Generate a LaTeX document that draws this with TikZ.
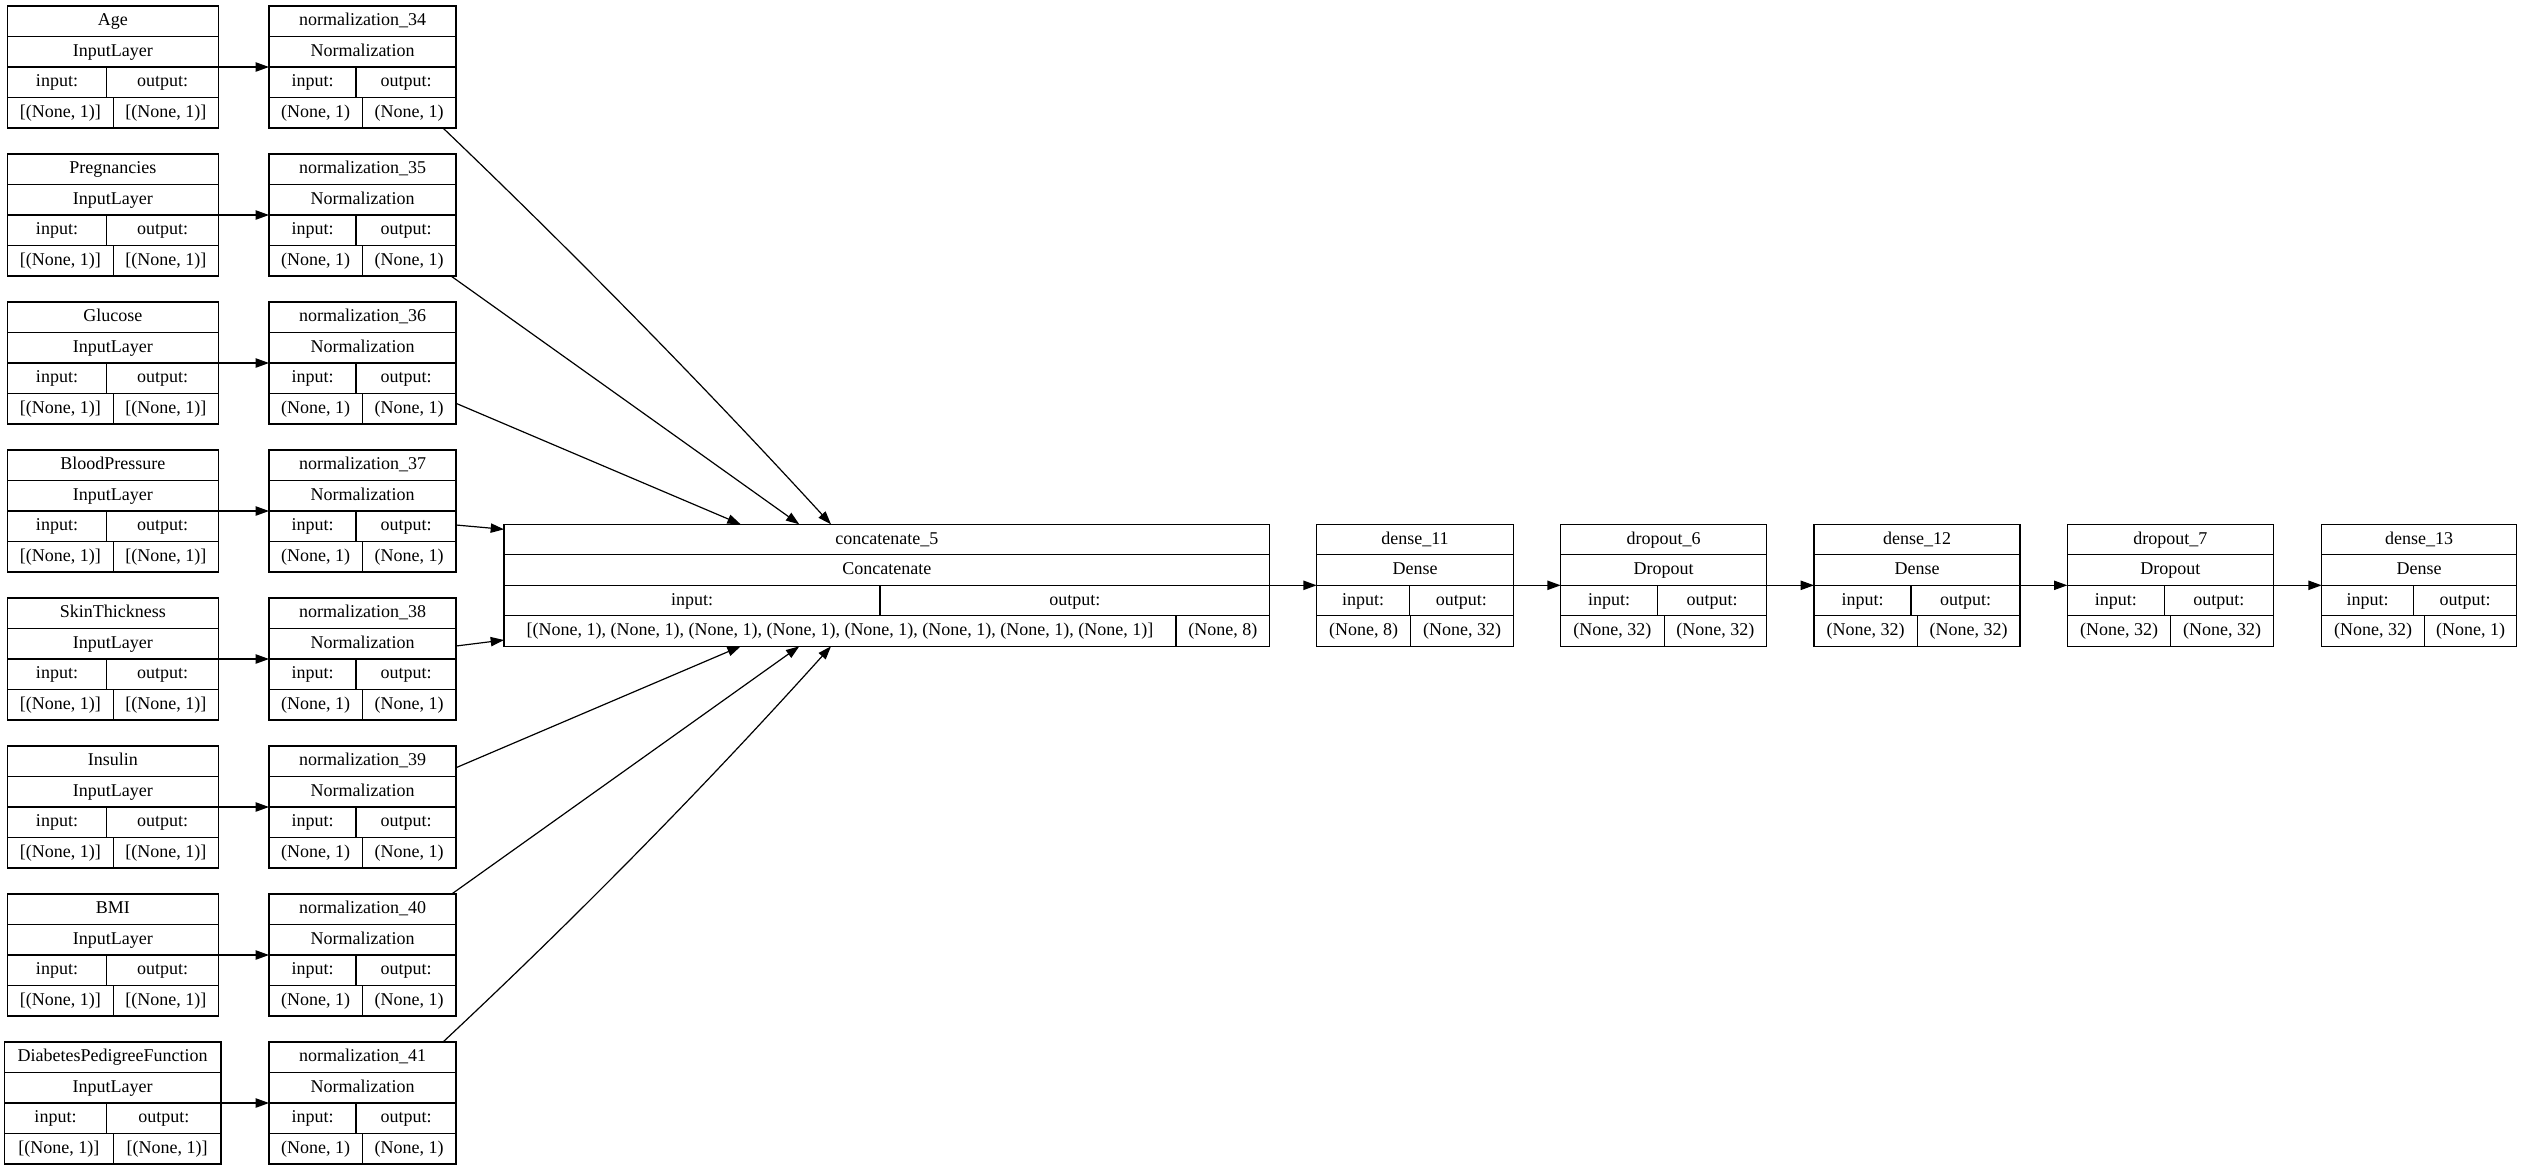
\documentclass[tikz,border=0pt]{standalone}
\usepackage{fontspec}
\setmainfont{Liberation Serif}
\usetikzlibrary{arrows.meta,calc}
\tikzset{
  box/.style={draw=black, line width=1.1pt, rectangle, inner sep=0pt, outer sep=0pt, minimum height=122pt},
  rowline/.style={draw=black, line width=1.1pt},
  txt/.style={inner sep=0pt, text height=13pt, text depth=4pt, font=\fontsize{18}{22}\selectfont},
  arr/.style={draw=black, line width=1.2pt, -{Triangle[length=13.3pt, width=9.3pt]}},
}
\newcommand\lyr[6]{%
  \gdef\curn{#1}\gdef\curl{#2}\gdef\curt{#3}\gdef\curw{#4}%
  \node[box, minimum width=#4pt, anchor=north west] (#1) at (#2,#3) {};
  \draw[rowline] (#2,#3+30.5) -- ++(#4,0) (#2,#3+61) -- ++(#4,0) (#2,#3+91.5) -- ++(#4,0);
  \node[txt] (#1-t) at (#2+#4/2,#3+15.25) {#5};
  \node[txt] (#1-c) at (#2+#4/2,#3+45.75) {#6};
}
\newcommand\lyrio[4]{%
  \draw[rowline] (\curl+#1,\curt+61) -- (\curl+#1,\curt+91.5) (\curl+#2,\curt+91.5) -- (\curl+#2,\curt+122);
  \node[txt] (\curn-ia) at (\curl+#1/2,\curt+76.25) {input:};
  \node[txt] (\curn-oa) at ({\curl+(#1+\curw)/2},\curt+76.25) {output:};
  \node[txt] (\curn-iv) at (\curl+#2/2,\curt+106.75) {#3};
  \node[txt] (\curn-ov) at ({\curl+(#2+\curw)/2},\curt+106.75) {#4};
}
\begin{document}
\begin{tikzpicture}[x=1pt,y=-1pt]
\useasboundingbox (0,0) rectangle (2523,1171);
% input layers
\lyr{age}{7.3}{6}{211}{Age}{InputLayer}\lyrio{99.4}{106}{[(None, 1)]}{[(None, 1)]}
\lyr{preg}{7.3}{154}{211}{Pregnancies}{InputLayer}\lyrio{99.4}{106}{[(None, 1)]}{[(None, 1)]}
\lyr{gluc}{7.3}{302}{211}{Glucose}{InputLayer}\lyrio{99.4}{106}{[(None, 1)]}{[(None, 1)]}
\lyr{bp}{7.3}{450}{211}{BloodPressure}{InputLayer}\lyrio{99.4}{106}{[(None, 1)]}{[(None, 1)]}
\lyr{skin}{7.3}{598}{211}{SkinThickness}{InputLayer}\lyrio{99.4}{106}{[(None, 1)]}{[(None, 1)]}
\lyr{ins}{7.3}{746}{211}{Insulin}{InputLayer}\lyrio{99.4}{106}{[(None, 1)]}{[(None, 1)]}
\lyr{bmi}{7.3}{894}{211}{BMI}{InputLayer}\lyrio{99.4}{106}{[(None, 1)]}{[(None, 1)]}
\lyr{dpf}{4.3}{1042}{216.7}{DiabetesPedigreeFunction}{InputLayer}\lyrio{102.4}{109}{[(None, 1)]}{[(None, 1)]}
% normalization layers
\lyr{n34}{269}{6}{187}{normalization\_34}{Normalization}\lyrio{87}{93.3}{(None, 1)}{(None, 1)}
\lyr{n35}{269}{154}{187}{normalization\_35}{Normalization}\lyrio{87}{93.3}{(None, 1)}{(None, 1)}
\lyr{n36}{269}{302}{187}{normalization\_36}{Normalization}\lyrio{87}{93.3}{(None, 1)}{(None, 1)}
\lyr{n37}{269}{450}{187}{normalization\_37}{Normalization}\lyrio{87}{93.3}{(None, 1)}{(None, 1)}
\lyr{n38}{269}{598}{187}{normalization\_38}{Normalization}\lyrio{87}{93.3}{(None, 1)}{(None, 1)}
\lyr{n39}{269}{746}{187}{normalization\_39}{Normalization}\lyrio{87}{93.3}{(None, 1)}{(None, 1)}
\lyr{n40}{269}{894}{187}{normalization\_40}{Normalization}\lyrio{87}{93.3}{(None, 1)}{(None, 1)}
\lyr{n41}{269}{1042}{187}{normalization\_41}{Normalization}\lyrio{87}{93.3}{(None, 1)}{(None, 1)}
% concatenate and dense chain
\lyr{cc}{504}{524.3}{765.5}{concatenate\_5}{Concatenate}\lyrio{376}{672}{[(None, 1), (None, 1), (None, 1), (None, 1), (None, 1), (None, 1), (None, 1), (None, 1)]}{(None, 8)}
\lyr{d11}{1316.7}{524.3}{196.6}{dense\_11}{Dense}\lyrio{92.6}{94}{(None, 8)}{(None, 32)}
\lyr{dr6}{1560.7}{524.3}{206}{dropout\_6}{Dropout}\lyrio{97}{103.4}{(None, 32)}{(None, 32)}
\lyr{d12}{1814}{524.3}{206}{dense\_12}{Dense}\lyrio{97}{103.4}{(None, 32)}{(None, 32)}
\lyr{dr7}{2067.3}{524.3}{206}{dropout\_7}{Dropout}\lyrio{97}{103.4}{(None, 32)}{(None, 32)}
\lyr{d13}{2321.7}{524.3}{195}{dense\_13}{Dense}\lyrio{91.6}{102.6}{(None, 32)}{(None, 1)}
% input -> normalization
\draw[arr] (age) -- (n34);
\draw[arr] (preg) -- (n35);
\draw[arr] (gluc) -- (n36);
\draw[arr] (bp) -- (n37);
\draw[arr] (skin) -- (n38);
\draw[arr] (ins) -- (n39);
\draw[arr] (bmi) -- (n40);
\draw[arr] (dpf) -- (n41);
% normalization -> concatenate
\coordinate (e1s) at ($(n34.south west)+(174,0)$);
\coordinate (e1e) at ($(cc.north west)+(327,0)$);
\coordinate (e8s) at ($(n41.north west)+(174,0)$);
\coordinate (e8e) at ($(cc.south west)+(327,0)$);
\draw[arr] (e1s) .. controls ($(e1s)!0.333!(e1e)+(4.3,-4.2)$) and ($(e1s)!0.667!(e1e)+(4.3,-4.2)$) .. (e1e);
\draw[arr] ($(n35.south west)+(182,0)$) -- ($(cc.north west)+(295.3,0)$);
\draw[arr] ($(n36.north east)+(0,101.3)$) -- ($(cc.north west)+(236.7,0)$);
\draw[arr] ($(n37.north east)+(0,75)$) -- ($(cc.north west)+(0,5)$);
\draw[arr] ($(n38.north east)+(0,48)$) -- ($(cc.north west)+(0,115.7)$);
\draw[arr] ($(n39.north east)+(0,21.7)$) -- ($(cc.south west)+(236.7,0)$);
\draw[arr] ($(n40.north west)+(182.7,0)$) -- ($(cc.south west)+(295.3,0)$);
\draw[arr] (e8s) .. controls ($(e8s)!0.333!(e8e)+(5.7,5.6)$) and ($(e8s)!0.667!(e8e)+(5.7,5.6)$) .. (e8e);
% chain
\draw[arr] (cc) -- (d11);
\draw[arr] (d11) -- (dr6);
\draw[arr] (dr6) -- (d12);
\draw[arr] (d12) -- (dr7);
\draw[arr] (dr7) -- (d13);
\end{tikzpicture}
\end{document}
